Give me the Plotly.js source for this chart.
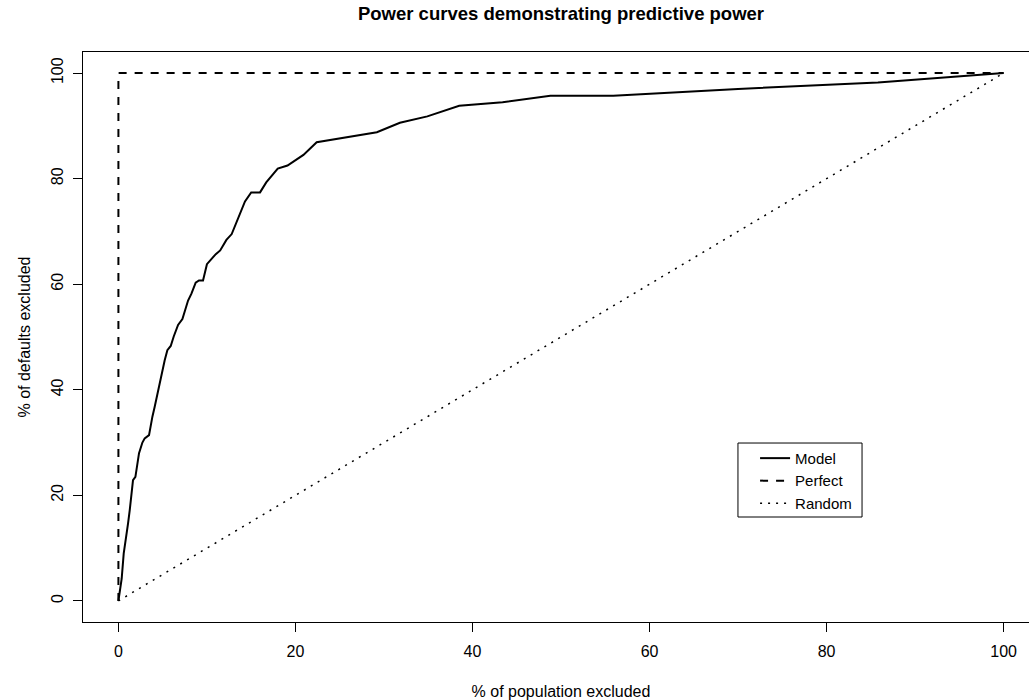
<!DOCTYPE html>
<html>
<head>
<meta charset="utf-8">
<script src="https://cdn.plot.ly/plotly-3.0.1.min.js"></script>
<style>
html, body { margin: 0; padding: 0; overflow: hidden; background: #fff; }
#chart { width: 1040px; height: 700px; }
</style>
</head>
<body>
<div id="chart"></div>
<script>
// Model power curve (% of population excluded vs % of defaults excluded)
const modelX = [0, 0.15, 0.23, 0.37, 0.6, 0.82, 1.09, 1.28, 1.47, 1.65, 1.92, 2.1, 2.33, 2.71, 2.97, 3.46, 3.6, 3.84, 4.1, 4.48, 4.86, 5.23, 5.53, 5.91, 6.25, 6.74, 7.23, 7.87, 8.25, 8.73, 9.1, 9.56, 10.0, 10.4, 11.0, 11.5, 12.2, 12.8, 13.4, 14.3, 15.0, 16.0, 16.7, 18.0, 19.1, 20.9, 22.4, 24.6, 29.2, 31.8, 34.9, 38.5, 43.4, 48.8, 55.9, 70, 85.8, 100];
const modelY = [0, 1.7, 3.3, 4.2, 9, 12.1, 14.7, 17.2, 20.4, 22.9, 23.5, 25.4, 28, 30, 30.8, 31.4, 33, 34.9, 36.8, 40, 42.8, 45.6, 47.5, 48.3, 50.1, 52.3, 53.4, 56.9, 58.2, 60.3, 60.7, 60.7, 63.8, 64.6, 65.7, 66.4, 68.4, 69.5, 71.9, 75.7, 77.4, 77.4, 79.3, 81.9, 82.5, 84.5, 86.9, 87.5, 88.8, 90.6, 91.8, 93.8, 94.5, 95.7, 95.7, 97.0, 98.2, 100];
// Perfect model
const perfectX = [0, 0, 100];
const perfectY = [0, 100, 100];
// Random model
const randomX = [0, 100];
const randomY = [0, 100];

const tickVals = [0, 20, 40, 60, 80, 100];
const tickText = ["0", "20", "40", "60", "80", "100"];

const FONT = "Liberation Sans, Arial, Helvetica, sans-serif";

const traces = [
  { x: modelX, y: modelY, type: "scatter", mode: "lines", name: "Model",
    line: { color: "#000", width: 2 } },
  { x: perfectX, y: perfectY, type: "scatter", mode: "lines", name: "Perfect",
    line: { color: "#000", width: 2, dash: "8px,8px" } },
  { x: randomX, y: randomY, type: "scatter", mode: "lines", name: "Random",
    line: { color: "#000", width: 1.5, dash: "2px,6px" } }
];

const axisCommon = {
  range: [-4, 104],
  tickmode: "array",
  tickvals: tickVals,
  ticktext: tickText,
  ticks: "outside",
  ticklen: 9,
  tickwidth: 1,
  tickcolor: "#000",
  showline: true,
  linecolor: "#000",
  linewidth: 1,
  mirror: true,
  showgrid: false,
  zeroline: false,
  tickfont: { family: FONT, size: 16, color: "#000" }
};

const layout = {
  width: 1040,
  height: 700,
  margin: { l: 83, r: 1, t: 52, b: 78 },
  paper_bgcolor: "#fff",
  plot_bgcolor: "#fff",
  font: { family: FONT, color: "#000" },
  showlegend: true,
  title: {
    text: "<b>Power curves demonstrating predictive power</b>",
    font: { family: FONT, size: 18.5, color: "#000" },
    x: 0.5, xref: "paper", y: 0.98, yref: "container", yanchor: "middle"
  },
  xaxis: Object.assign({}, axisCommon, {
    ticklabelstandoff: 6,
    title: { text: "% of population excluded", font: { family: FONT, size: 16, color: "#000" }, standoff: 26 }
  }),
  yaxis: Object.assign({}, axisCommon, {
    tickangle: -90,
    ticklabelstandoff: 4,
    title: { text: "% of defaults excluded", font: { family: FONT, size: 16, color: "#000" }, standoff: 13 }
  }),
  legend: {
    x: 0.703, xref: "paper", xanchor: "left",
    y: 0.316, yref: "paper", yanchor: "top",
    bgcolor: "rgba(0,0,0,0)",
    borderwidth: 0,
    font: { family: FONT, size: 15, color: "#000" },
    itemwidth: 30
  },
  shapes: [
    { type: "rect", xref: "paper", yref: "paper",
      x0: 0.6851, x1: 0.8149, y0: 0.1842, y1: 0.314,
      line: { color: "#000", width: 1 }, fillcolor: "rgba(0,0,0,0)", layer: "above" }
  ]
};

Plotly.newPlot("chart", traces, layout, { staticPlot: true, displayModeBar: false });
</script>
</body>
</html>
